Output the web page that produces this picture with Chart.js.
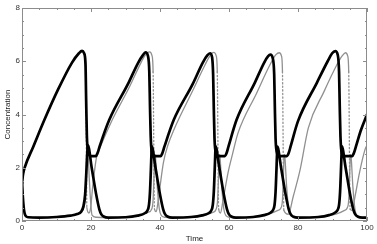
<!DOCTYPE html>
<html>
<head>
<meta charset="utf-8">
<script src="https://cdn.jsdelivr.net/npm/chart.js@4.4.1/dist/chart.umd.min.js"></script>
<style>
  html, body { margin: 0; padding: 0; background: #fff; }
  #wrap { width: 377px; height: 244px; position: relative; }
</style>
</head>
<body>
<div id="wrap"><canvas id="concChart"></canvas></div>
<script>
// black sawtooth (drops to a plateau near 2.4)
const sawTime = [0, 0.3, 0.9, 3.3, 6.5, 10.5, 14.5, 16.5, 17.4, 18.0, 18.4, 18.6, 18.8, 19.2, 19.9, 21.4, 21.9,
  22.5, 25.3, 30.8, 33.7, 35.0, 35.8, 36.5, 36.9, 37.1, 37.3, 37.6, 38.4, 40.2, 40.7,
  41.3, 44.0, 49.5, 52.4, 53.7, 54.5, 55.1, 55.4, 55.6, 55.8, 56.1, 56.9, 58.8, 59.3,
  59.9, 62.2, 67.5, 70.2, 71.3, 72.0, 72.7, 73.1, 73.3, 73.5, 73.8, 74.6, 76.8, 77.3,
  77.9, 80.0, 85.5, 88.6, 89.9, 90.8, 91.5, 91.9, 92.1, 92.3, 92.6, 93.4, 95.7, 96.2,
  96.8, 98.2, 100];
const sawBlack = [1.4, 1.75, 2.05, 2.8, 3.8, 4.95, 5.95, 6.3, 6.39, 6.3, 5.9, 4.5, 3.2, 2.6, 2.44, 2.44, 2.55,
  2.8, 3.8, 5.17, 5.95, 6.22, 6.33, 6.2, 5.6, 4.3, 3.2, 2.62, 2.44, 2.44, 2.55,
  2.8, 3.8, 5.15, 5.95, 6.22, 6.3, 6.15, 5.5, 4.2, 3.1, 2.62, 2.44, 2.44, 2.55,
  2.82, 3.8, 5.2, 5.95, 6.18, 6.25, 6.1, 5.5, 4.2, 3.1, 2.62, 2.44, 2.44, 2.55,
  2.82, 3.75, 5.2, 6.0, 6.3, 6.38, 6.25, 5.6, 4.3, 3.2, 2.62, 2.44, 2.44, 2.55,
  2.8, 3.4, 4.0];

// black spikes
const spikeTime = [0, 0.25, 0.6, 1.0, 1.8, 5, 10, 14, 16, 17.2, 17.8, 18.3, 18.6, 18.85, 19.1, 20.2, 21.5, 22.4, 23.0, 23.8, 25,
  30, 33.5, 35.7, 36.3, 36.8, 37.1, 37.35, 37.5, 37.6, 38.7, 40.0, 40.9, 41.5, 42.3, 43.5,
  49, 52.2, 54.2, 54.8, 55.3, 55.6, 55.85, 56.0, 56.1, 57.2, 58.5, 59.4, 60.0, 60.8, 62.0,
  67, 70.2, 72.1, 72.7, 73.2, 73.5, 73.75, 73.9, 74.0, 75.1, 76.4, 77.3, 77.9, 78.7, 80.0,
  86, 89, 90.8, 91.4, 91.9, 92.2, 92.45, 92.6, 92.7, 93.8, 95.1, 96.0, 96.6, 97.4, 98.6, 100];
const spikeBlack = [1.5, 0.9, 0.4, 0.2, 0.14, 0.13, 0.15, 0.2, 0.26, 0.36, 0.55, 1.0, 1.7, 2.4, 2.84, 2.0, 1.0, 0.45, 0.25, 0.16, 0.13,
  0.14, 0.2, 0.3, 0.38, 0.6, 1.1, 1.9, 2.45, 2.8, 2.0, 1.0, 0.45, 0.25, 0.16, 0.13,
  0.15, 0.21, 0.3, 0.38, 0.6, 1.1, 1.9, 2.45, 2.8, 2.0, 1.0, 0.45, 0.25, 0.16, 0.13,
  0.15, 0.22, 0.32, 0.4, 0.6, 1.1, 1.9, 2.45, 2.79, 2.0, 1.0, 0.45, 0.25, 0.16, 0.13,
  0.15, 0.22, 0.32, 0.4, 0.6, 1.1, 1.9, 2.45, 2.8, 2.0, 1.0, 0.45, 0.25, 0.16, 0.13, 0.13];

// grey sawtooth (lags, drops almost to zero)
const graySawTime = [0, 0.3, 0.9, 3.3, 6.5, 10.5, 14.5, 16.5, 17.5, 18.2, 18.5, 18.8, 19.4, 19.9, 20.5, 21.6, 22.6,
  25.8, 31.2, 34.5, 36.0, 37.0, 37.7, 38.0, 38.4, 38.9, 39.6, 41.0, 42.3, 44.0,
  49.5, 53.0, 54.7, 55.6, 56.3, 56.6, 57.0, 57.5, 58.3, 59.7, 61.0, 62.6,
  68.0, 71.8, 73.6, 74.6, 75.2, 75.5, 75.9, 77.2, 78.6, 80.6, 83.0,
  87.5, 91.2, 92.9, 93.8, 94.4, 94.7, 95.1, 95.6, 96.5, 97.8, 99.4, 100];
const graySaw = [1.4, 1.75, 2.05, 2.8, 3.8, 4.95, 5.95, 6.3, 6.38, 6.25, 5.6, 0.5, 0.3, 0.5, 1.3, 2.4, 2.75,
  3.7, 5.05, 5.95, 6.28, 6.35, 6.2, 5.6, 0.45, 0.35, 0.9, 2.2, 2.85, 3.42,
  4.9, 5.85, 6.25, 6.33, 6.2, 5.6, 0.45, 0.3, 0.8, 1.8, 2.5, 3.3,
  4.8, 5.85, 6.25, 6.32, 6.2, 5.6, 0.4, 0.25, 0.91, 1.92, 3.5,
  4.85, 5.85, 6.22, 6.32, 6.2, 5.6, 0.45, 0.4, 0.9, 1.8, 2.67, 2.85];

// grey spikes
const graySpikeTime = [0, 0.25, 0.6, 1.0, 1.8, 5, 10, 14, 16, 17.2, 17.9, 18.4, 18.7, 18.9, 19.1, 19.5, 19.9, 20.3, 21.5,
  25, 30, 34, 36.5, 37.6, 38.0, 38.3, 38.5, 38.7, 39.2, 39.8, 40.4, 41.5,
  45, 50, 53, 55.3, 56.3, 56.7, 57.0, 57.2, 57.4, 57.9, 58.5, 59.1, 60.2,
  64, 69, 72, 74.2, 75.0, 75.5, 75.8, 76.0, 76.2, 76.7, 77.3, 77.9, 79,
  83, 88, 91, 93.5, 94.3, 94.7, 95.0, 95.2, 95.4, 95.9, 96.5, 97.1, 98.3, 100];
const graySpike = [1.5, 0.9, 0.4, 0.2, 0.14, 0.13, 0.15, 0.2, 0.26, 0.36, 0.5, 0.9, 1.8, 2.5, 2.55, 1.6, 0.7, 0.22, 0.14,
  0.13, 0.15, 0.22, 0.32, 0.45, 0.8, 1.8, 2.5, 2.4, 1.3, 0.45, 0.2, 0.14,
  0.13, 0.15, 0.22, 0.32, 0.45, 0.8, 1.8, 2.5, 2.4, 1.3, 0.45, 0.2, 0.14,
  0.13, 0.2, 0.28, 0.4, 0.48, 0.8, 1.8, 2.5, 2.4, 1.3, 0.45, 0.2, 0.14,
  0.13, 0.2, 0.26, 0.4, 0.5, 0.8, 1.8, 2.5, 2.4, 1.3, 0.45, 0.2, 0.14, 0.13];

const xTicksMajor = [0, 20, 40, 60, 80, 100];
const yTicksMajor = [0, 2, 4, 6, 8];

const toPoints = (xs, ys) => xs.map((t, i) => ({ x: t, y: ys[i] }));

const FONT = 'Liberation Sans, Arial, sans-serif';
const AXIS_GREY = '#8c8c8c';

// frame on all four sides with inward major/minor ticks
const frameTicks = {
  id: 'frameTicks',
  afterDatasetsDraw(chart) {
    const { ctx, chartArea: a, scales: { x, y } } = chart;
    ctx.save();
    ctx.strokeStyle = AXIS_GREY;
    ctx.lineWidth = 1;
    ctx.strokeRect(a.left + 0.5, a.top + 0.5, a.right - a.left - 1, a.bottom - a.top - 1);
    ctx.beginPath();
    for (let v = 0; v <= 100; v += 5) {
      const px = Math.round(x.getPixelForValue(v)) + 0.5;
      const len = xTicksMajor.includes(v) ? 4 : 2;
      ctx.moveTo(px, a.bottom); ctx.lineTo(px, a.bottom - len);
      ctx.moveTo(px, a.top); ctx.lineTo(px, a.top + len);
    }
    for (let v = 0; v <= 8; v += 0.5) {
      const py = Math.round(y.getPixelForValue(v)) + 0.5;
      const len = yTicksMajor.includes(v) ? 4 : 2;
      ctx.moveTo(a.left, py); ctx.lineTo(a.left + len, py);
      ctx.moveTo(a.right, py); ctx.lineTo(a.right - len, py);
    }
    ctx.stroke();
    ctx.restore();
  }
};

// steep grey drops look dotted in the original
const dottedIfSteep = (ctx) => {
  const dx = ctx.p1.parsed.x - ctx.p0.parsed.x;
  const dy = ctx.p1.parsed.y - ctx.p0.parsed.y;
  return Math.abs(dy / dx) > 8 ? [1.2, 2.4] : undefined;
};

new Chart(document.getElementById('concChart'), {
  type: 'line',
  data: {
    datasets: [
      { data: toPoints(sawTime, sawBlack), borderColor: '#000', borderWidth: 2.7, order: 1 },
      { data: toPoints(spikeTime, spikeBlack), borderColor: '#000', borderWidth: 2.7, order: 1 },
      { data: toPoints(graySawTime, graySaw), borderColor: '#909090', borderWidth: 1.3, order: 2,
        segment: { borderDash: dottedIfSteep } },
      { data: toPoints(graySpikeTime, graySpike), borderColor: '#909090', borderWidth: 1.3, order: 2,
        segment: { borderDash: dottedIfSteep } }
    ]
  },
  options: {
    responsive: true,
    maintainAspectRatio: false,
    animation: false,
    devicePixelRatio: 1,
    layout: { padding: { top: 8, right: 10, left: 0, bottom: 0 } },
    elements: {
      point: { radius: 0 },
      line: { cubicInterpolationMode: 'monotone', borderJoinStyle: 'round', borderCapStyle: 'round', fill: false }
    },
    plugins: { legend: { display: false }, tooltip: { enabled: false } },
    scales: {
      x: {
        type: 'linear', min: 0, max: 100,
        grid: { display: false, drawTicks: false },
        border: { display: false },
        ticks: { stepSize: 20, padding: 2, maxRotation: 0, color: '#333', font: { size: 8, family: FONT } },
        title: { display: true, text: 'Time', color: '#222', padding: 0, font: { size: 8, family: FONT } },
        afterFit(scale) { scale.height = 23; }
      },
      y: {
        min: 0, max: 8,
        grid: { display: false, drawTicks: false },
        border: { display: false },
        ticks: { stepSize: 2, padding: 2, color: '#333', font: { size: 8, family: FONT } },
        title: { display: true, text: 'Concentration', color: '#222', padding: 3, font: { size: 8, family: FONT } },
        afterFit(scale) { scale.width = 22; }
      }
    }
  },
  plugins: [frameTicks]
});
</script>
</body>
</html>
